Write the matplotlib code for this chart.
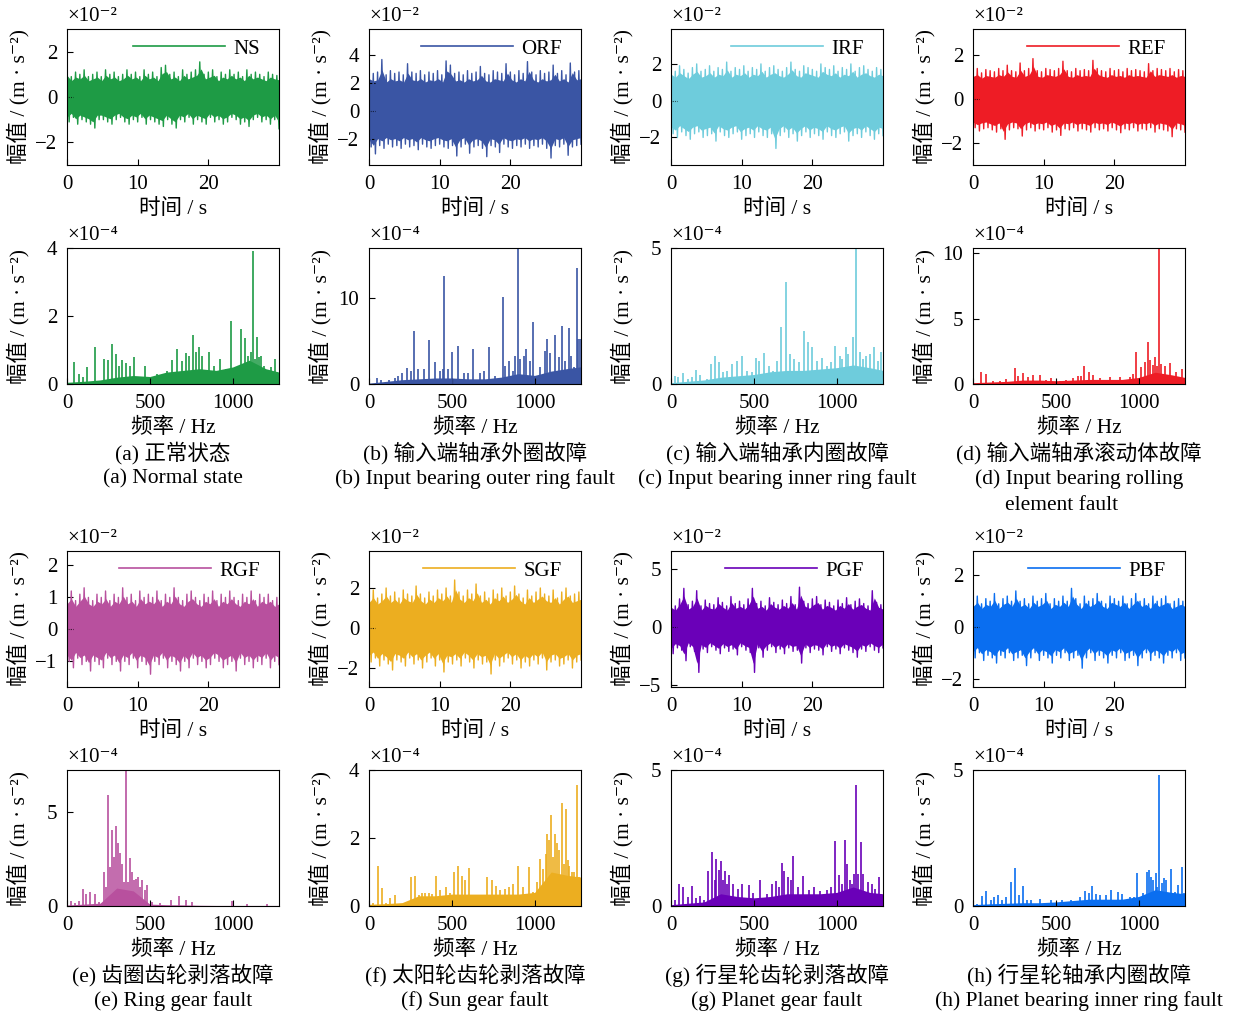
import numpy as np
import matplotlib
matplotlib.use("Agg")
import matplotlib.pyplot as plt
from matplotlib.lines import Line2D

plt.rcParams['font.family'] = ['Liberation Serif', 'Noto Sans CJK SC', 'DejaVu Serif']
plt.rcParams['font.size'] = 15
plt.rcParams['axes.unicode_minus'] = True

# ---------------- data ----------------
NAMES = ["NS", "ORF", "IRF", "REF", "RGF", "SGF", "PGF", "PBF"]
COLORS = ["#1E9B45", "#3A55A4", "#6ECCDC", "#EE1C25", "#B8509E", "#ECAE20", "#6A00B8", "#0A6EF0"]
CAP_CN = ["(a) 正常状态", "(b) 输入端轴承外圈故障", "(c) 输入端轴承内圈故障", "(d) 输入端轴承滚动体故障",
          "(e) 齿圈齿轮剥落故障", "(f) 太阳轮齿轮剥落故障", "(g) 行星轮齿轮剥落故障", "(h) 行星轮轴承内圈故障"]
CAP_EN = ["(a) Normal state", "(b) Input bearing outer ring fault", "(c) Input bearing inner ring fault",
          "(d) Input bearing rolling", "(e) Ring gear fault", "(f) Sun gear fault",
          "(g) Planet gear fault", "(h) Planet bearing inner ring fault"]
CAP_EN_EXTRA = "element fault"

DURATION = 30      # s
FMAX = 1280        # Hz

# time-domain envelopes (x1e-2 m/s^2), local maxima / minima over the record
NS_UP = [1.2,0.9,1.1,1.0,1.2,0.9,1.0,1.1,0.9,1.2, 1.0,1.1,0.9,1.0,1.2,1.0,1.1,0.9,1.2,1.0,
         1.1,0.9,1.3,1.4,1.0,1.1,0.9,1.2,1.0,1.1, 1.2,1.55,1.0,1.1,1.2,0.9,1.1,1.0,1.2,1.0,
         1.1,0.9,1.2,1.0,1.1,1.0,0.9,1.1,1.0,0.95]
NS_LO = [-1.1,-0.9,-1.2,-1.0,-1.1,-1.2,-1.37,-1.0,-1.0,-1.1, -1.2,-1.0,-0.9,-1.1,-1.2,-1.0,-1.1,-0.9,-1.2,-1.0,
         -1.1,-1.2,-1.3,-1.0,-1.2,-1.37,-1.0,-1.1,-0.9,-1.2, -1.0,-1.1,-1.2,-0.9,-1.1,-1.0,-1.2,-1.1,-0.9,-1.0,
         -1.2,-1.1,-1.3,-1.0,-0.9,-1.1,-1.0,-1.2,-1.0,-1.4]
ORF_UP = [2.9,2.7,2.8,3.7,2.6,2.9,2.7,2.8,2.6,3.4, 2.8,2.7,2.9,2.6,2.8,2.7,2.9,2.6,3.6,3.3,
          2.7,2.8,2.6,2.9,2.7,2.8,3.2,2.7,2.6,2.9, 2.8,2.7,3.4,2.8,2.6,2.9,2.7,3.55,2.8,2.6,
          2.9,2.7,2.8,3.3,2.7,2.9,2.6,3.45,2.8,2.9]
ORF_LO = [-2.6,-3.1,-2.5,-2.7,-2.4,-2.6,-2.5,-2.7,-2.4,-2.6, -2.5,-2.8,-2.4,-2.6,-2.7,-2.5,-2.4,-2.6,-2.7,-2.5,
          -3.25,-2.6,-2.4,-3.05,-2.6,-2.5,-2.7,-3.3,-2.5,-2.6, -3.0,-2.4,-2.6,-2.7,-2.5,-2.6,-2.4,-2.7,-2.5,-2.6,
          -2.4,-2.7,-3.4,-2.5,-2.6,-2.4,-3.2,-2.6,-2.5,-2.4]
IRF_UP = [1.8,1.6,1.9,1.7,1.5,1.8,2.0,1.6,1.7,1.9, 1.6,1.8,1.7,2.1,1.6,1.8,1.7,1.9,1.6,1.8,
          1.7,2.0,1.6,1.8,1.9,1.7,1.6,1.8,2.1,1.7, 1.6,1.9,1.8,1.7,1.6,2.0,1.8,1.7,1.9,1.6,
          1.8,1.7,2.0,1.6,1.8,1.9,1.7,1.6,1.8,1.7]
IRF_LO = [-1.8,-2.0,-1.7,-1.9,-2.1,-1.8,-1.7,-2.0,-1.9,-1.8, -2.2,-1.7,-1.9,-2.0,-1.8,-1.7,-2.1,-1.9,-1.8,-2.0,
          -1.7,-1.9,-2.0,-1.8,-2.6,-1.9,-1.7,-2.0,-1.8,-2.2, -1.9,-1.7,-2.0,-1.8,-1.9,-2.1,-1.7,-1.9,-2.0,-1.8,
          -1.7,-2.2,-1.9,-1.8,-2.0,-1.7,-1.9,-2.1,-1.8,-1.9]
REF_UP = [1.3,1.4,1.2,1.35,1.3,1.25,1.4,1.3,1.55,1.3, 1.25,1.65,1.3,1.4,1.85,1.3,1.25,1.4,1.35,1.3,
          1.4,1.73,1.3,1.25,1.4,1.3,1.35,1.3,1.77,1.4, 1.3,1.25,1.4,1.3,1.35,1.25,1.4,1.3,1.35,1.3,
          1.25,1.62,1.3,1.4,1.35,1.3,1.4,1.25,1.35,1.3]
REF_LO = [-1.3,-1.45,-1.35,-1.3,-1.4,-1.5,-1.35,-1.83,-1.4,-1.3, -1.35,-1.68,-1.4,-1.3,-1.45,-1.35,-1.4,-1.3,-1.5,-1.4,
          -1.65,-1.35,-1.4,-1.3,-1.45,-1.35,-1.4,-1.5,-1.3,-1.4, -1.35,-1.45,-1.3,-1.4,-1.53,-1.35,-1.4,-1.3,-1.45,-1.35,
          -1.4,-1.3,-1.5,-1.35,-1.4,-1.45,-1.71,-1.35,-1.4,-1.5]
RGF_UP = [1.0,1.2,0.9,1.1,1.3,1.0,0.9,1.1,1.0,1.2, 0.9,1.1,1.0,1.3,1.0,1.1,0.9,1.2,1.0,1.1,
          1.0,1.2,0.9,1.1,1.0,1.3,1.0,0.9,1.1,1.2, 1.0,0.9,1.1,1.0,1.2,0.9,1.1,1.0,1.2,1.0,
          0.9,1.1,1.0,1.2,0.9,1.1,1.0,1.1,0.9,1.0]
RGF_LO = [-1.0,-1.2,-0.9,-1.1,-1.0,-1.3,-1.0,-1.1,-1.2,-0.9, -1.1,-1.0,-1.3,-1.0,-1.1,-0.9,-1.2,-1.0,-1.1,-1.4,
          -1.0,-1.1,-0.9,-1.2,-1.0,-1.1,-1.3,-1.0,-1.2,-0.9, -1.1,-1.0,-1.2,-1.1,-0.9,-1.0,-1.2,-1.1,-1.0,-1.3,
          -0.9,-1.1,-1.0,-1.2,-1.0,-1.1,-0.9,-1.2,-1.0,-1.1]
SGF_UP = [1.6,1.9,1.5,1.7,2.0,1.6,1.8,1.5,1.9,1.7, 1.6,2.1,1.7,1.5,1.8,1.6,1.9,1.7,2.0,1.6,
          2.4,1.8,1.6,1.9,1.7,2.2,1.6,1.8,1.5,1.9, 1.7,2.0,1.6,1.8,2.1,1.7,1.5,1.9,1.6,1.8,
          2.0,1.7,1.6,1.9,1.5,1.8,2.0,1.6,1.7,1.8]
SGF_LO = [-1.7,-1.5,-1.9,-1.6,-1.8,-2.1,-1.6,-1.7,-1.9,-1.5, -1.8,-1.6,-2.0,-1.7,-1.5,-1.9,-1.6,-2.2,-1.7,-1.8,
          -1.6,-1.9,-1.5,-1.7,-2.0,-1.6,-1.8,-1.7,-2.3,-1.6, -1.9,-1.7,-1.5,-1.8,-1.6,-2.0,-1.7,-1.9,-1.6,-1.8,
          -1.5,-2.1,-1.7,-1.6,-1.9,-1.8,-1.6,-2.0,-1.7,-1.6]
PGF_UP = [2.1,1.8,2.4,3.3,1.9,2.2,3.1,1.8,2.3,2.0, 1.9,2.5,2.1,1.8,2.6,2.0,2.2,1.9,2.4,3.3,
          2.0,2.2,1.8,2.5,2.1,1.9,2.3,2.0,2.6,1.9, 3.4,2.2,2.0,2.4,2.6,1.9,2.3,2.1,1.8,2.3,
          2.0,2.5,1.9,2.2,2.4,2.0,1.8,3.1,2.1,1.9]
PGF_LO = [-2.3,-1.8,-2.0,-2.9,-1.7,-2.1,-3.9,-1.9,-2.2,-1.7, -2.0,-2.3,-1.8,-2.1,-1.9,-2.4,-1.7,-2.0,-2.2,-3.9,
          -1.8,-2.6,-2.0,-1.7,-2.2,-1.9,-2.3,-1.8,-2.1,-2.0, -3.1,-1.8,-2.2,-1.9,-2.0,-2.4,-1.7,-2.1,-1.9,-2.3,
          -1.8,-2.0,-2.2,-2.6,-1.9,-2.1,-1.7,-2.0,-2.2,-1.8]
PBF_UP = [1.0,1.2,0.9,1.1,1.0,1.3,0.9,1.1,1.2,1.0, 1.4,1.0,1.1,0.9,1.2,1.0,1.1,1.3,0.9,1.1,
          1.0,1.2,1.0,1.5,1.1,0.9,1.2,1.0,1.1,1.3, 1.0,0.9,1.2,1.1,1.0,1.2,0.9,1.1,1.3,1.0,
          1.1,0.9,1.2,1.0,1.1,1.2,0.9,1.0,1.1,1.0]
PBF_LO = [-1.2,-1.0,-1.3,-1.1,-1.2,-1.4,-1.1,-1.2,-1.0,-1.3, -1.2,-1.1,-1.5,-1.2,-1.0,-1.3,-1.1,-1.2,-1.4,-1.1,
          -1.2,-1.0,-1.3,-1.2,-1.1,-1.6,-1.2,-1.0,-1.3,-1.1, -1.2,-1.4,-1.1,-1.2,-1.0,-1.3,-1.2,-1.1,-1.5,-1.2,
          -1.0,-1.3,-1.1,-1.2,-1.4,-1.1,-1.2,-1.0,-1.3,-1.2]

TIME_UP = [NS_UP, ORF_UP, IRF_UP, REF_UP, RGF_UP, SGF_UP, PGF_UP, PBF_UP]
TIME_LO = [NS_LO, ORF_LO, IRF_LO, REF_LO, RGF_LO, SGF_LO, PGF_LO, PBF_LO]
TIME_YLIM = [(-3, 3), (-3.9, 5.9), (-3.5, 3.9), (-3, 3.2), (-1.8, 2.45), (-2.95, 3.85), (-5.15, 6.5), (-2.33, 2.95)]
TIME_YTICKS = [[-2, 0, 2], [-2, 0, 2, 4], [-2, 0, 2], [-2, 0, 2], [-1, 0, 1, 2], [-2, 0, 2], [-5, 0, 5], [-2, 0, 2]]

# spectra (x1e-4 m/s^2): prominent lines (Hz, amplitude) + noise floor on a 100 Hz grid
FLOOR_F = [0, 100, 200, 300, 400, 500, 600, 700, 800, 900, 1000, 1100, 1200, 1280]
NS_PF = [44,75,97,121,171,222,246,272,296,312,333,357,383,403,468,544,605,635,665,695,716,736,762,776,796,816,
         857,887,921,958,988,1018,1052,1075,1093,1109,1121,1133,1145,1159,1173,1189,1230,1254,1270]
NS_PA = [0.65,0.29,0.2,0.51,1.1,0.73,0.7,1.19,0.88,0.54,0.7,0.63,0.54,0.78,0.52,0.3,0.39,0.71,1.02,0.68,0.91,0.83,
         1.43,0.93,1.09,0.83,0.93,0.54,0.73,0.44,1.85,0.49,1.61,1.34,0.83,0.93,3.92,0.73,1.37,0.78,0.83,0.54,0.49,0.73,0.34]
NS_FL = [0.05, 0.08, 0.12, 0.2, 0.25, 0.22, 0.35, 0.4, 0.45, 0.4, 0.5, 0.7, 0.45, 0.35]

ORF_PF = [1,50,74,120,154,176,200,227,251,273,295,333,361,401,427,447,451,477,501,538,572,598,628,672,694,722,762,
          808,822,846,867,883,899,913,933,949,973,989,1031,1063,1077,1093,1123,1145,1167,1183,1205,1220,1237,1254,1264,1274]
ORF_PA = [2.4,0.7,0.5,0.5,0.7,0.96,1.27,1.85,1.54,6.2,1.8,1.73,5.08,2.5,1.54,1.8,12.6,1.73,3.73,4.42,1.27,1.27,4.12,
          1.27,1.54,4.3,0.96,10.1,2.1,2.7,1.54,3.27,15.8,2.9,3.27,4.1,2.7,7.23,1.92,3.85,5.2,3.65,5.65,3.08,6.73,2.7,
          6.54,3.2,1.92,13.46,5.27,5.27]
ORF_FL = [0.1, 0.3, 0.5, 0.6, 0.7, 0.7, 0.6, 0.6, 0.8, 1.2, 1.0, 1.5, 1.8, 2.0]

IRF_PF = [24,44,74,100,125,151,175,215,241,267,292,316,340,368,396,430,456,487,511,531,561,593,617,643,667,692,718,
          744,774,802,830,854,882,909,939,965,993,1019,1033,1055,1071,1096,1120,1140,1160,1180,1200,1228,1250,1270]
IRF_PA = [0.3,0.25,0.39,0.2,0.25,0.53,0.33,0.2,0.74,1.04,0.8,0.43,0.49,0.74,0.86,1.04,0.49,0.43,0.96,0.86,1.14,0.67,
          0.49,0.86,2.1,3.74,1.1,0.92,0.8,1.94,1.53,1.35,0.86,0.94,0.67,0.8,1.41,1.04,0.92,1.37,1.1,1.74,5.0,1.16,0.92,
          1.04,1.1,1.37,0.86,1.16]
IRF_FL = [0.05, 0.1, 0.15, 0.25, 0.3, 0.35, 0.45, 0.5, 0.5, 0.55, 0.6, 0.7, 0.6, 0.5]

REF_PF = [2,50,76,121,161,201,252,272,302,332,362,403,443,473,523,564,604,634,654,672,698,725,765,825,886,946,966,
          986,1017,1037,1057,1071,1087,1101,1113,1125,1137,1157,1192,1228,1264]
REF_PA = [2.4,0.94,0.76,0.25,0.25,0.38,1.19,0.63,0.84,0.5,0.71,0.71,0.33,0.46,0.25,0.33,0.43,0.63,0.63,1.34,0.89,0.68,
          0.43,0.5,0.5,0.5,0.76,2.46,1.27,1.65,3.24,1.82,1.44,2.1,1.39,10.4,1.52,1.39,1.6,0.89,1.14]
REF_FL = [0.1, 0.15, 0.2, 0.3, 0.3, 0.25, 0.3, 0.35, 0.35, 0.35, 0.5, 0.9, 0.7, 0.5]

RGF_PF = [24,50,75,97,117,141,171,196,222,238,250,262,274,286,296,308,319,331,343,355,369,381,393,405,417,429,441,
          454,468,480,514,564,629,675,716,756,998,1089,1210]
RGF_PA = [0.27,0.16,0.27,0.89,0.62,0.74,0.66,0.21,1.81,1.01,5.89,2.07,4.02,2.6,4.26,3.32,2.82,2.2,1.28,7.2,1.28,2.52,
          1.81,1.4,1.45,1.54,1.01,1.4,0.83,1.13,0.21,0.16,0.34,0.51,0.3,0.21,0.27,0.12,0.12]
RGF_FL = [0.05, 0.1, 0.15, 0.95, 0.8, 0.1, 0.07, 0.06, 0.04, 0.03, 0.03, 0.03, 0.03, 0.03]

SGF_PF = [3,26,52,76,104,126,154,183,227,251,275,299,321,341,361,381,405,431,465,491,514,538,562,578,604,632,672,
          712,740,766,792,820,843,869,899,929,965,993,1017,1033,1053,1067,1075,1085,1097,1109,1123,1137,1149,1165,
          1177,1187,1199,1209,1223,1237,1253,1266]
SGF_PA = [2.54,0.09,1.18,0.53,0.1,0.24,0.31,0.07,0.09,0.86,0.88,0.32,0.39,0.39,0.39,0.35,0.88,0.46,0.56,0.37,1.01,1.18,
          0.88,0.76,1.11,0.27,0.27,0.84,0.76,0.58,0.46,0.51,0.56,0.64,1.18,0.56,1.16,0.41,0.71,1.39,1.08,1.52,2.12,1.95,
          2.69,1.45,2.12,1.85,1.65,3.03,1.25,2.86,1.35,1.18,1.01,1.01,3.55,0.86]
SGF_FL = [0.05, 0.07, 0.1, 0.3, 0.3, 0.35, 0.35, 0.35, 0.35, 0.35, 0.4, 1.0, 0.9, 0.85]

PGF_PF = [2,26,50,74,100,125,151,175,199,223,249,263,273,287,299,312,326,338,352,376,402,428,468,496,537,577,607,633,
          653,669,685,708,722,738,768,794,834,862,902,943,969,991,1015,1033,1053,1065,1079,1093,1105,1120,1131,1145,
          1159,1190,1214,1234,1256,1270]
PGF_PA = [2.3,0.21,0.8,0.7,0.33,0.72,0.31,0.36,0.23,1.28,1.99,0.95,1.72,1.31,1.66,0.95,1.28,0.82,1.13,0.82,0.64,0.82,
          0.76,0.48,0.97,0.45,0.8,0.92,0.7,1.58,1.29,1.07,0.95,1.85,0.7,1.09,0.6,0.7,0.55,0.58,0.7,2.38,1.13,0.82,2.42,
          1.56,0.95,0.82,1.19,4.45,1.19,2.36,1.19,0.88,0.82,0.64,1.07,0.45]
PGF_FL = [0.05, 0.1, 0.15, 0.45, 0.35, 0.3, 0.35, 0.45, 0.45, 0.45, 0.5, 0.7, 0.5, 0.45]

PBF_PF = [2,26,52,78,107,127,151,177,201,227,252,276,302,326,352,403,473,539,594,644,674,699,721,745,765,805,832,876,
          900,946,970,988,1027,1053,1063,1077,1089,1103,1111,1125,1139,1151,1168,1194,1218,1240,1264,1276]
PBF_PA = [2.62,0.09,0.37,0.56,0.21,0.33,0.4,0.21,0.33,0.89,1.41,0.4,0.73,0.21,0.23,0.27,0.23,0.23,0.23,0.33,0.56,0.48,
          0.74,0.43,0.4,0.4,0.6,0.52,0.43,0.33,0.33,1.2,0.48,1.26,1.32,1.07,0.95,1.22,0.7,4.81,0.83,1.04,0.95,1.35,0.52,
          0.79,1.44,0.46]
PBF_FL = [0.05, 0.08, 0.1, 0.12, 0.12, 0.15, 0.2, 0.25, 0.25, 0.25, 0.35, 0.6, 0.5, 0.45]

SPEC_PF = [NS_PF, ORF_PF, IRF_PF, REF_PF, RGF_PF, SGF_PF, PGF_PF, PBF_PF]
SPEC_PA = [NS_PA, ORF_PA, IRF_PA, REF_PA, RGF_PA, SGF_PA, PGF_PA, PBF_PA]
SPEC_FL = [NS_FL, ORF_FL, IRF_FL, REF_FL, RGF_FL, SGF_FL, PGF_FL, PBF_FL]
SPEC_YLIM = [4, 15.8, 5, 10.4, 7.2, 4, 5, 5]
SPEC_YTICKS = [[0, 2, 4], [0, 10], [0, 5], [0, 5, 10], [0, 5], [0, 2, 4], [0, 5], [0, 5]]

# ---------------- layout ----------------
W, H = 1233, 1016
fig = plt.figure(figsize=(W / 100, H / 100), dpi=100)
COL_LEFT = [67, 369, 671, 973]
ROW_TOP = [29, 248, 551, 770]
AX_W, AX_H = 212, 136
YLABEL = "幅值 / (m · s⁻²)"
FS = 15


def add_ax(col, row):
    return fig.add_axes([COL_LEFT[col] / W, 1 - (ROW_TOP[row] + AX_H) / H, AX_W / W, AX_H / H])


def style(ax, exp):
    ax.tick_params(direction='in', length=4, width=0.8, top=False, right=False, labelsize=FS, pad=7)
    for s in ax.spines.values():
        s.set_linewidth(0.8)
    ax.text(0.0, 1.02, "×10" + exp, transform=ax.transAxes, ha='left', va='bottom', fontsize=FS)
    ax.set_ylabel(YLABEL, fontsize=15.5)
    ax.yaxis.set_label_coords(-0.175, 0.5)


for i in range(8):
    col = i % 4
    r_time = 0 if i < 4 else 2
    r_spec = r_time + 1
    c = COLORS[i]

    # time domain
    ax = add_ax(col, r_time)
    up = np.array(TIME_UP[i])
    lo = np.array(TIME_LO[i])
    n = len(up)
    t = np.linspace(0, DURATION, n)
    tz = np.linspace(0, DURATION, 2 * n)
    yz = np.empty(2 * n)
    yz[0::2] = up
    yz[1::2] = lo
    ax.fill_between(t, 0.8 * lo, 0.8 * up, color=c, lw=0)
    ax.plot(tz, yz, color=c, lw=1.0)
    ax.set_xlim(0, DURATION)
    ax.set_ylim(*TIME_YLIM[i])
    ax.set_xticks([0, 10, 20])
    ax.set_yticks(TIME_YTICKS[i])
    style(ax, "⁻²")
    ax.set_xlabel("时间 / s", fontsize=15.5)
    ax.xaxis.set_label_coords(0.5, -0.25)
    ax.legend(handles=[Line2D([], [], color=c, lw=1.2)], labels=[NAMES[i]], loc='upper right',
              bbox_to_anchor=(0.972, 1.025), frameon=False, handlelength=4.4, handletextpad=0.4,
              borderaxespad=0.25, fontsize=FS)

    # spectrum
    ax = add_ax(col, r_spec)
    ax.fill_between(FLOOR_F, 0, SPEC_FL[i], color=c, lw=0)
    ax.vlines(SPEC_PF[i], 0, SPEC_PA[i], color=c, lw=1.2)
    ax.set_xlim(0, FMAX)
    ax.set_ylim(0, SPEC_YLIM[i])
    ax.set_xticks([0, 500, 1000])
    ax.set_yticks(SPEC_YTICKS[i])
    style(ax, "⁻⁴")
    ax.set_xlabel("频率 / Hz", fontsize=15.5)
    ax.xaxis.set_label_coords(0.5, -0.25)

    # captions
    xc = (COL_LEFT[col] + AX_W / 2) / W
    ybase = 453 if i < 4 else 975
    fig.text(xc, 1 - ybase / H, CAP_CN[i], ha='center', va='center', fontsize=15.5)
    fig.text(xc, 1 - (ybase + 26) / H, CAP_EN[i], ha='center', va='center', fontsize=15.5)
    if i == 3:
        fig.text(1062 / W, 1 - (ybase + 52) / H, CAP_EN_EXTRA, ha='center', va='center', fontsize=15.5)

fig.savefig("out.png", dpi=100)
